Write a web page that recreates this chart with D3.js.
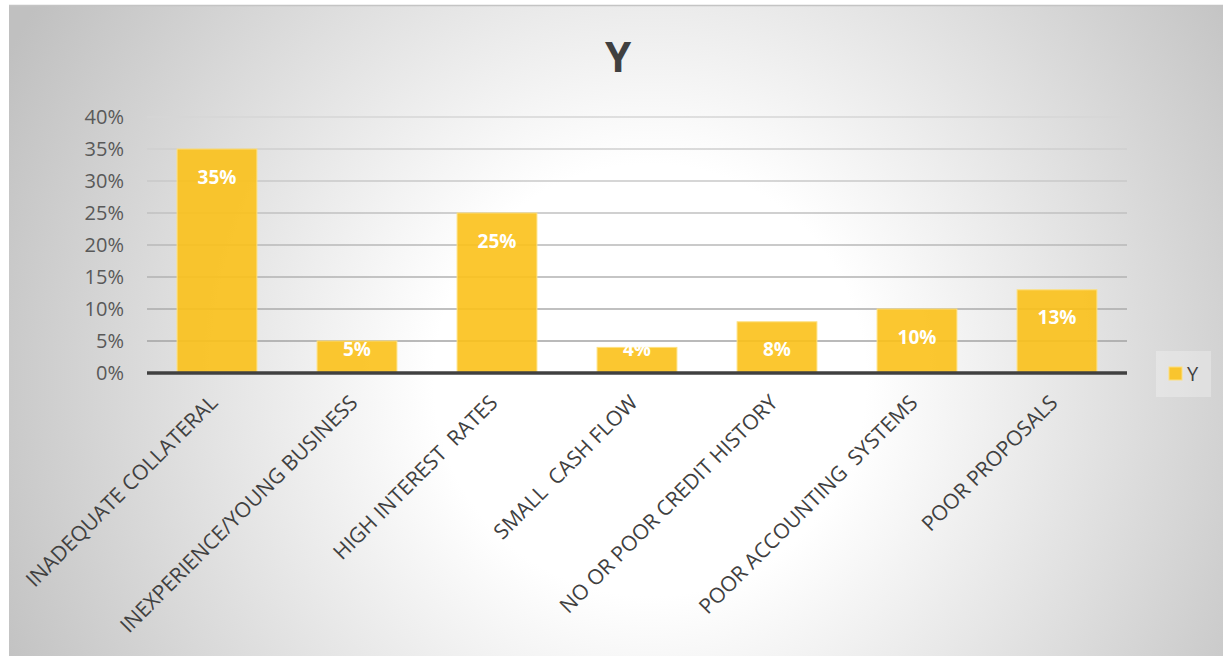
<!DOCTYPE html>
<html>
<head>
<meta charset="utf-8">
<script src="https://cdn.jsdelivr.net/npm/d3@7"></script>
<style>
  html, body { margin: 0; padding: 0; background: #ffffff; }
  svg { display: block; }
  svg text { font-family: "Open Sans", "DejaVu Sans", sans-serif; }
</style>
</head>
<body>
<svg id="chart" width="1223" height="656"></svg>
<script>
// Reasons loans are refused, share of responses
const categories = [
  "INADEQUATE COLLATERAL",
  "INEXPERIENCE/YOUNG BUSINESS",
  "HIGH INTEREST  RATES",
  "SMALL  CASH FLOW",
  "NO OR POOR CREDIT HISTORY",
  "POOR ACCOUNTING  SYSTEMS",
  "POOR PROPOSALS"
];
const values = [35, 5, 25, 4, 8, 10, 13];
const yTicks = [0, 5, 10, 15, 20, 25, 30, 35, 40];
const seriesName = "Y";

const svg = d3.select("#chart");
const W = 1223, H = 656;

// Chart-area background: radial fade from white to grey
const defs = svg.append("defs");
const grad = defs.append("radialGradient")
  .attr("id", "bg")
  .attr("gradientUnits", "userSpaceOnUse")
  .attr("cx", 650).attr("cy", 380).attr("r", 720);
grad.append("stop").attr("offset", "0").attr("stop-color", "#ffffff");
grad.append("stop").attr("offset", "0.3").attr("stop-color", "#ffffff");
grad.append("stop").attr("offset", "1").attr("stop-color", "#c0c0c0");

svg.append("rect")
  .attr("x", 9).attr("y", 5)
  .attr("width", W - 9).attr("height", H - 5)
  .attr("fill", "url(#bg)");
svg.append("line")
  .attr("x1", 9).attr("x2", W).attr("y1", 5.5).attr("y2", 5.5)
  .attr("stroke", "#c4c4c4").attr("stroke-width", 1.5);

// Plot area
const plot = { left: 147, right: 1127, top: 117, bottom: 373 };

const x = d3.scaleBand()
  .domain(categories)
  .range([plot.left, plot.right])
  .paddingInner(0.43)
  .paddingOuter(0.215);

const y = d3.scaleLinear()
  .domain([0, 40])
  .range([plot.bottom, plot.top]);

// Gridlines, darkening toward the baseline
const gridColor = d3.interpolateRgb("#d6d6d6", "#9c9c9c");
svg.append("g")
  .selectAll("line")
  .data(yTicks.filter(d => d > 0))
  .join("line")
  .attr("x1", plot.left).attr("x2", plot.right)
  .attr("y1", d => y(d)).attr("y2", d => y(d))
  .attr("stroke", d => gridColor(1 - d / 40))
  .attr("stroke-width", 1.5);

// Y axis tick labels
const yAxis = d3.axisLeft(y)
  .tickValues(yTicks)
  .tickFormat(d => d + "%")
  .tickSize(0)
  .tickPadding(0);
const yg = svg.append("g")
  .attr("transform", `translate(${plot.left - 23},0)`)
  .call(yAxis);
yg.attr("font-family", null).attr("font-size", null);
yg.select(".domain").remove();
yg.selectAll("text")
  .attr("fill", "#595959")
  .style("font-size", "20px");

// Bars
svg.append("g")
  .selectAll("rect")
  .data(values)
  .join("rect")
  .attr("x", (d, i) => x(categories[i]))
  .attr("y", d => y(d))
  .attr("width", x.bandwidth())
  .attr("height", d => y(0) - y(d))
  .attr("fill", "#fbc11a")
  .attr("fill-opacity", 0.9)
  .attr("stroke", "#fde07f")
  .attr("stroke-width", 1);

// Baseline
svg.append("line")
  .attr("x1", plot.left).attr("x2", plot.right)
  .attr("y1", y(0)).attr("y2", y(0))
  .attr("stroke", "#404040")
  .attr("stroke-width", 3.5);

// Value labels inside the bar tops
svg.append("g")
  .selectAll("text")
  .data(values)
  .join("text")
  .attr("x", (d, i) => x(categories[i]) + x.bandwidth() / 2)
  .attr("y", d => Math.min(y(d) + 28, y(0) - 24))
  .attr("dy", "0.35em")
  .attr("text-anchor", "middle")
  .attr("fill", "#ffffff")
  .style("font-weight", "bold")
  .style("font-size", "19px")
  .text(d => d + "%");

// Category labels, rotated
const xAxis = d3.axisBottom(x).tickSize(0).tickPadding(0);
const xg = svg.append("g")
  .attr("transform", `translate(0,${plot.bottom})`)
  .call(xAxis);
xg.attr("font-family", null).attr("font-size", null);
xg.select(".domain").remove();
xg.selectAll("text")
  .attr("text-anchor", "end")
  .attr("fill", "#404040")
  .style("font-size", "21px")
  .style("white-space", "pre")
  .attr("dy", "0")
  .attr("transform", "translate(2,31) rotate(-45)");

// Title
svg.append("text")
  .attr("x", 618).attr("y", 72)
  .attr("text-anchor", "middle")
  .attr("fill", "#404040")
  .style("font-weight", "bold")
  .style("font-size", "42px")
  .text(seriesName);

// Legend
const lg = svg.append("g").attr("transform", "translate(1156,351)");
lg.append("rect")
  .attr("width", 55).attr("height", 46)
  .attr("fill", "#ffffff").attr("fill-opacity", 0.28);
lg.append("rect")
  .attr("x", 13).attr("y", 16)
  .attr("width", 13).attr("height", 13)
  .attr("fill", "#fbc11a").attr("fill-opacity", 0.9)
  .attr("stroke", "#fde07f").attr("stroke-width", 1);
lg.append("text")
  .attr("x", 31).attr("y", 23)
  .attr("dy", "0.35em")
  .attr("fill", "#404040")
  .style("font-size", "20px")
  .text(seriesName);
</script>
</body>
</html>
